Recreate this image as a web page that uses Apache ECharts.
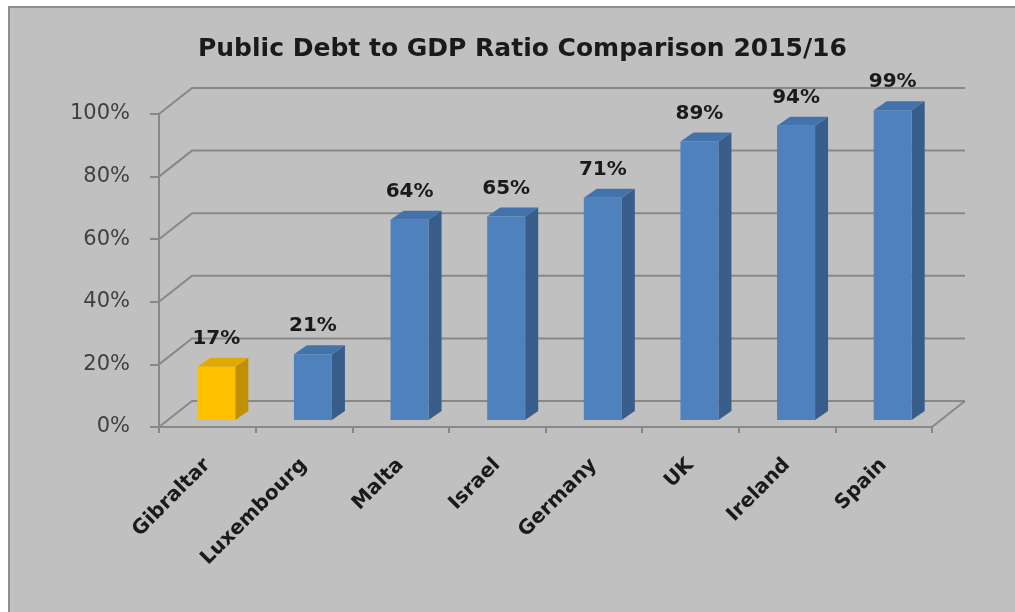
<!DOCTYPE html>
<html>
<head>
<meta charset="utf-8">
<script src="https://cdn.jsdelivr.net/npm/echarts@6/dist/echarts.min.js"></script>
<style>
html,body{margin:0;padding:0;background:#fff;}
#c{width:1015px;height:612px;}
</style>
</head>
<body>
<div id="c"></div>
<script>
const categories = ['Gibraltar', 'Luxembourg', 'Malta', 'Israel', 'Germany', 'UK', 'Ireland', 'Spain'];
const values = [17, 21, 64, 65, 71, 89, 94, 99];
const yTicks = [0, 20, 40, 60, 80, 100];
const highlighted = ['Gibraltar'];

const DEPTH_X = 33, DEPTH_Y = -26;   // back wall offset
const BAR_OX = 9, BAR_OY = -7;       // bar front face offset into depth
const BAR_W = 38, SIDE_X = 13, SIDE_Y = -9;
const LINE = '#888888';

const chart = echarts.init(document.getElementById('c'), null, {renderer: 'canvas'});

function wallItem(params, api) {
  const cs = params.coordSys;
  const v = api.value(1);
  const y = api.coord([0, v])[1];
  const x0 = cs.x, x1 = cs.x + cs.width;
  const children = [{
    type: 'polyline',
    shape: {points: [[x0, y], [x0 + DEPTH_X, y + DEPTH_Y], [x1 + DEPTH_X, y + DEPTH_Y]]},
    style: {stroke: LINE, lineWidth: 2, fill: null}
  }];
  if (v === 0) {
    children.push({
      type: 'line',
      shape: {x1: x1, y1: y, x2: x1 + DEPTH_X, y2: y + DEPTH_Y},
      style: {stroke: LINE, lineWidth: 2}
    });
  }
  return {type: 'group', children: children};
}

function barItem(params, api) {
  const i = api.value(0);
  const v = api.value(1);
  const base = api.coord([i, 0]);
  const top = api.coord([i, v]);
  const cx = base[0] + BAR_OX;
  const fx0 = cx - BAR_W / 2, fx1 = cx + BAR_W / 2;
  const yb = base[1] + BAR_OY, yt = top[1] + BAR_OY;
  const gold = highlighted.indexOf(categories[i]) >= 0;
  const cFront = gold ? '#ffc000' : '#4f81bd';
  const cSide = gold ? '#bf9000' : '#385d8a';
  const cTop = gold ? '#e2aa00' : '#4473ab';
  return {
    type: 'group',
    children: [
      {type: 'polygon', shape: {points: [[fx1, yb], [fx1 + SIDE_X, yb + SIDE_Y], [fx1 + SIDE_X, yt + SIDE_Y], [fx1, yt]]},
        style: {fill: cSide}},
      {type: 'polygon', shape: {points: [[fx0, yt], [fx0 + SIDE_X, yt + SIDE_Y], [fx1 + SIDE_X, yt + SIDE_Y], [fx1, yt]]},
        style: {fill: cTop}},
      {type: 'rect', shape: {x: fx0, y: yt, width: BAR_W, height: yb - yt},
        style: {fill: cFront}},
      {type: 'text', x: cx, y: yt - 18,
        style: {text: v + '%', fill: '#1a1a1a', font: 'bold 20px "DejaVu Sans"', align: 'center', verticalAlign: 'bottom'}}
    ]
  };
}

chart.setOption({
  backgroundColor: '#ffffff',
  animation: false,
  graphic: [{
    type: 'rect', z: -10, silent: true,
    shape: {x: 9, y: 7, width: 1020, height: 620},
    style: {fill: '#c0c0c0', stroke: '#8e8e8e', lineWidth: 2}
  }],
  title: {
    text: 'Public Debt to GDP Ratio Comparison 2015/16',
    left: 193, top: 32,
    textStyle: {fontFamily: 'DejaVu Sans', fontWeight: 'bold', fontSize: 25, color: '#1a1a1a'}
  },
  grid: {left: 159, right: 83, top: 114, bottom: 185},
  xAxis: {
    type: 'category',
    data: categories,
    axisLine: {show: true, lineStyle: {color: LINE, width: 2}},
    axisTick: {show: true, length: 6, lineStyle: {color: LINE, width: 2}},
    axisLabel: {rotate: 45, margin: 35, fontFamily: 'DejaVu Sans', fontWeight: 'bold', fontSize: 20, color: '#1a1a1a'},
    splitLine: {show: false}
  },
  yAxis: {
    type: 'value', min: 0, max: 100, interval: 20,
    axisLine: {show: true, lineStyle: {color: LINE, width: 2}},
    axisTick: {show: true, length: 9, lineStyle: {color: LINE, width: 2}},
    axisLabel: {formatter: '{value}%', margin: 29, fontFamily: 'DejaVu Sans', fontSize: 21, color: '#404040'},
    splitLine: {show: false}
  },
  series: [
    {
      type: 'custom', z: 1, clip: false, silent: true,
      renderItem: wallItem,
      data: yTicks.map(function (t) { return [0, t]; })
    },
    {
      type: 'custom', z: 3, clip: false,
      renderItem: barItem,
      data: values.map(function (v, i) { return [i, v]; })
    }
  ]
});
</script>
</body>
</html>
